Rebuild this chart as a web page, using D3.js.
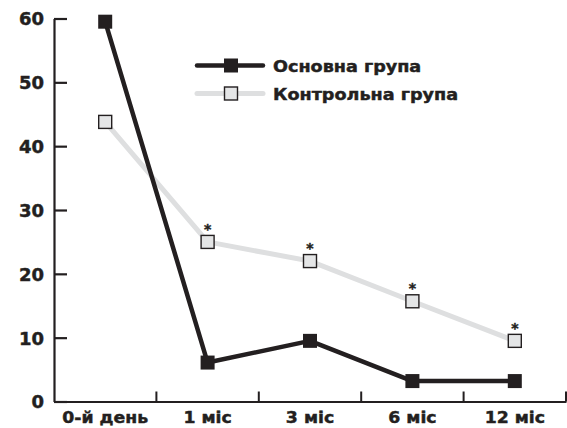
<!DOCTYPE html>
<html>
<head>
<meta charset="utf-8">
<script src="https://cdn.jsdelivr.net/npm/d3@7"></script>
<style>
  html, body { margin: 0; padding: 0; background: #fff; }
  svg { display: block; }
  text { font-family: "DejaVu Sans", "Liberation Sans", Arial, sans-serif; font-weight: bold; fill: #231f20; stroke: #231f20; stroke-width: 0.45px; }
</style>
</head>
<body>
<svg id="chart" width="567" height="428"></svg>
<script>
const categories = ["0-й день", "1 міс", "3 міс", "6 міс", "12 міс"];
const mainValues = [59.5, 6.1, 9.5, 3.2, 3.2];
const controlValues = [43.8, 25.0, 22.0, 15.7, 9.5];
const significant = [false, true, true, true, true];
const yTicks = [0, 10, 20, 30, 40, 50, 60];
const seriesNames = ["Основна група", "Контрольна група"];

(function () {
const ink = "#231f20";
const greyLine = "#dedfe0";
const greyFill = "#e4e5e6";

const svg = d3.select("#chart");
const mLeft = 54, mRight = 566, mTop = 18.5, mBottom = 401.5;

const x = d3.scaleBand().domain(categories).range([mLeft, mRight]).padding(0);
const y = d3.scaleLinear().domain([0, 60]).range([mBottom, mTop]);

function stretch(sel, f) {
  sel.each(function() {
    const w = this.getComputedTextLength();
    d3.select(this).attr("textLength", w * f).attr("lengthAdjust", "spacingAndGlyphs");
  });
}

// Y axis
const yAxis = svg.append("g")
  .attr("transform", `translate(${mLeft},0)`)
  .call(d3.axisLeft(y).tickValues(yTicks).tickSize(-13).tickSizeOuter(0).tickPadding(10));
yAxis.select(".domain").attr("stroke", ink).attr("stroke-width", 2.2);
yAxis.selectAll(".tick line").attr("stroke", ink).attr("stroke-width", 2.2);
yAxis.selectAll(".tick text").attr("font-size", 18).attr("fill", ink)
  .style("font-family", "'DejaVu Sans', sans-serif").style("font-weight", "bold")
  .attr("dy", "0.36em").call(stretch, 1.0);

// X axis
const xAxis = svg.append("g")
  .attr("transform", `translate(0,${mBottom})`)
  .call(d3.axisBottom(x).tickSize(0).tickSizeOuter(0).tickPadding(10));
xAxis.select(".domain").attr("stroke", ink).attr("stroke-width", 2.2);
xAxis.selectAll(".tick text").attr("font-size", 16).attr("fill", ink)
  .style("font-family", "'DejaVu Sans', sans-serif").style("font-weight", "bold")
  .call(stretch, 1.08);
// boundary ticks pointing up
xAxis.selectAll(".bound").data(categories).join("line")
  .attr("class", "bound")
  .attr("x1", d => x(d) + x.bandwidth()).attr("x2", d => x(d) + x.bandwidth())
  .attr("y1", 0).attr("y2", -10)
  .attr("stroke", ink).attr("stroke-width", 2);

const cx = d => x(d) + x.bandwidth() / 2;
const line = d3.line().x(d => cx(d.c)).y(d => y(d.v));

const controlData = categories.map((c, i) => ({ c, v: controlValues[i], s: significant[i] }));
const mainData = categories.map((c, i) => ({ c, v: mainValues[i] }));

// Control series
svg.append("path").datum(controlData)
  .attr("d", line).attr("fill", "none")
  .attr("stroke", greyLine).attr("stroke-width", 5).attr("stroke-linejoin", "round");
svg.selectAll(".cm").data(controlData).join("rect")
  .attr("class", "cm")
  .attr("x", d => cx(d.c) - 6.5).attr("y", d => y(d.v) - 6.5)
  .attr("width", 13).attr("height", 13)
  .attr("fill", greyFill).attr("stroke", ink).attr("stroke-width", 1.4);
svg.selectAll(".star").data(controlData.filter(d => d.s)).join("text")
  .attr("class", "star")
  .attr("x", d => cx(d.c)).attr("y", d => y(d.v) - 8)
  .attr("text-anchor", "middle").attr("font-size", 14).text("*");

// Main series
svg.append("path").datum(mainData)
  .attr("d", line).attr("fill", "none")
  .attr("stroke", ink).attr("stroke-width", 4.5).attr("stroke-linejoin", "round");
svg.selectAll(".mm").data(mainData).join("rect")
  .attr("class", "mm")
  .attr("x", d => cx(d.c) - 7).attr("y", d => y(d.v) - 7)
  .attr("width", 14).attr("height", 14)
  .attr("fill", ink);

// Legend
const legend = svg.append("g");
const lx1 = 197, lx2 = 263, lmid = 231;
const ly = [65.5, 93.5];
legend.append("line").attr("x1", lx1).attr("x2", lx2).attr("y1", ly[0]).attr("y2", ly[0])
  .attr("stroke", ink).attr("stroke-width", 4.5).attr("stroke-linecap", "round");
legend.append("rect").attr("x", lmid - 7).attr("y", ly[0] - 7).attr("width", 14).attr("height", 14).attr("fill", ink);
legend.append("line").attr("x1", lx1).attr("x2", lx2).attr("y1", ly[1]).attr("y2", ly[1])
  .attr("stroke", greyLine).attr("stroke-width", 5).attr("stroke-linecap", "round");
legend.append("rect").attr("x", lmid - 6.5).attr("y", ly[1] - 6.5).attr("width", 13).attr("height", 13)
  .attr("fill", greyFill).attr("stroke", ink).attr("stroke-width", 1.4);
legend.selectAll(".lt").data(seriesNames).join("text")
  .attr("class", "lt")
  .attr("x", 273).attr("y", (d, i) => ly[i] + 6.5)
  .attr("font-size", 16).text(d => d)
  .call(stretch, 1.1);
})();
</script>
</body>
</html>
